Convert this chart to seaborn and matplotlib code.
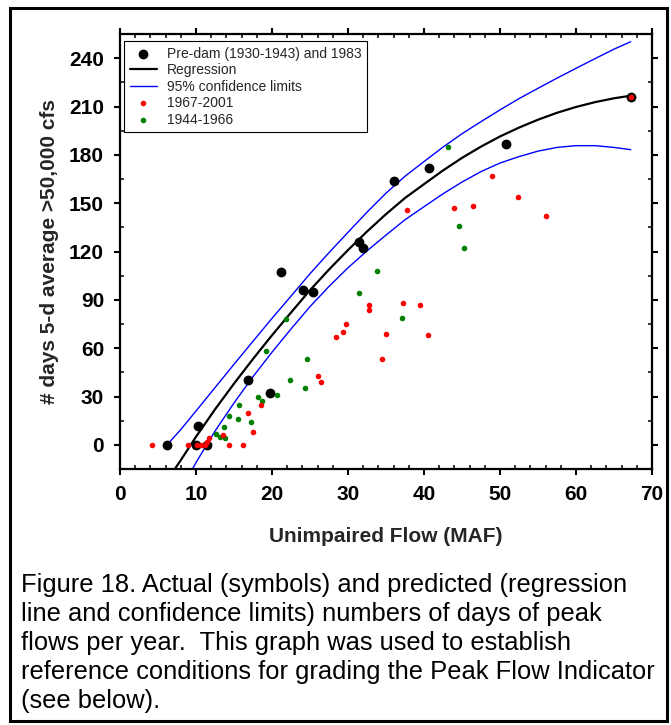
import matplotlib
matplotlib.use("Agg")
import matplotlib.pyplot as plt
import seaborn as sns
from matplotlib.ticker import MultipleLocator
from matplotlib.patches import Rectangle

# ---------------- data ----------------
predam_flow = [6.2, 10.0, 10.3, 11.5, 16.8, 19.8, 21.2, 24.1, 25.4, 31.4, 32.0, 36.1, 40.7, 50.8, 67.2]
predam_days = [0, 0, 12, 0, 40, 32, 107, 96, 95, 126, 122, 164, 172, 187, 216]

late_flow = [4.2, 8.9, 10.1, 10.7, 11.2, 11.5, 11.7, 13.6, 14.3, 16.2, 16.8, 17.5, 18.5,
             26.0, 26.4, 28.4, 29.4, 29.8, 32.7, 32.8, 34.5, 35.0, 37.3, 37.7, 39.5, 40.5,
             44.0, 46.4, 48.9, 52.4, 56.0, 67.2]
late_days = [0, 0, 0, 0, 0, 2, 4, 6, 0, 0, 20, 8, 25,
             43, 39, 67, 70, 75, 87, 84, 53, 69, 88, 146, 87, 68,
             147, 148, 167, 154, 142, 216]

early_flow = [12.6, 13.1, 13.7, 13.8, 14.4, 15.5, 15.7, 17.2, 18.2, 18.7, 19.2, 20.7,
              21.9, 22.4, 24.3, 24.6, 31.5, 33.8, 37.1, 43.1, 44.6, 45.3]
early_days = [7, 5, 11, 4, 18, 16, 25, 14, 30, 27, 58, 31,
              78, 40, 35, 53, 94, 108, 79, 185, 136, 122]

fit_flow = [6.2, 8, 10, 12.5, 15, 17.5, 20, 22.5, 25, 27.5, 30, 32.5, 35, 37.5, 40,
            42.5, 45, 47.5, 50, 52.5, 55, 57.5, 60, 62.5, 65, 67.2]
fit_days = [-22.1, -9.5, 5.0, 22.0, 38.0, 53.3, 68.0, 82.1, 96.0, 108.8, 120.9, 132.4,
            143.2, 153.2, 161.8, 170.3, 178.1, 185.1, 191.4, 196.9, 201.8, 206.1,
            209.7, 212.7, 215.1, 216.7]
upper_days = [0.0, 9.5, 21.0, 35.5, 50.0, 64.3, 78.5, 92.3, 106.2, 119.3, 131.9, 144.4,
              156.2, 166.7, 175.8, 184.8, 193.1, 200.6, 207.9, 214.9, 221.3, 227.6,
              233.7, 239.7, 245.6, 250.2]
lower_days = [-44.1, -28.5, -11.0, 8.5, 26.0, 42.3, 57.5, 71.9, 85.8, 98.3, 109.9, 120.4,
              130.2, 139.7, 147.8, 155.8, 163.1, 169.6, 174.9, 178.9, 182.3, 184.6,
              185.7, 185.7, 184.6, 183.2]

x_ticks = [0, 10, 20, 30, 40, 50, 60, 70]
y_ticks = [0, 30, 60, 90, 120, 150, 180, 210, 240]

caption_lines = [
    "Figure 18. Actual (symbols) and predicted (regression",
    "line and confidence limits) numbers of days of peak",
    "flows per year.  This graph was used to establish",
    "reference conditions for grading the Peak Flow Indicator",
    "(see below).",
]

# ---------------- figure ----------------
sns.set_style("ticks")
plt.rcParams['font.family'] = ['Liberation Sans', 'DejaVu Sans']

W, H = 671, 725
fig = plt.figure(figsize=(W / 100, H / 100), dpi=100)
ax_l, ax_r, ax_t, ax_b = 120, 652, 34, 469
ax = fig.add_axes([ax_l / W, 1 - ax_b / H, (ax_r - ax_l) / W, (ax_b - ax_t) / H])

sns.lineplot(x=fit_flow, y=fit_days, color='black', lw=1.6, ax=ax,
             label='Regression', sort=False, zorder=2)
sns.lineplot(x=fit_flow, y=upper_days, color='#0000ff', lw=1.0, ax=ax,
             label='95% confidence limits', sort=False, zorder=2)
sns.lineplot(x=fit_flow, y=lower_days, color='#0000ff', lw=1.0, ax=ax,
             sort=False, zorder=2)

sns.scatterplot(x=predam_flow, y=predam_days, color='black', s=50, linewidth=0,
                ax=ax, label='Pre-dam (1930-1943) and 1983', zorder=3)
sns.scatterplot(x=early_flow, y=early_days, color='#008000', s=16, linewidth=0,
                ax=ax, label='1944-1966', zorder=4)
sns.scatterplot(x=late_flow, y=late_days, color='#ff0000', s=16, linewidth=0,
                ax=ax, label='1967-2001', zorder=5)

ax.set_xlim(0, 70)
ax.set_ylim(-15, 255)
ax.set_xticks(x_ticks)
ax.set_yticks(y_ticks)
ax.xaxis.set_minor_locator(MultipleLocator(2))
ax.yaxis.set_minor_locator(MultipleLocator(15))

for s in ax.spines.values():
    s.set_visible(True)
    s.set_linewidth(1.6)
    s.set_color('black')

ax.tick_params(which='major', direction='out', length=4.5, width=1.5, top=True,
               right=True, labelsize=15, pad=7, colors='black')
ax.tick_params(which='minor', direction='in', length=3, width=1.1, top=True,
               right=True, colors='black')
for lbl in ax.get_xticklabels() + ax.get_yticklabels():
    lbl.set_fontweight('bold')

ax.set_xlabel('Unimpaired Flow (MAF)', fontsize=15, fontweight='bold')
ax.set_ylabel('# days 5-d average >50,000 cfs', fontsize=15, fontweight='bold')
ax.xaxis.label.set_va('center')
ax.yaxis.label.set_va('center')
ax.xaxis.set_label_coords(0.5, (ax_b - 537) / (ax_b - ax_t))
ax.yaxis.set_label_coords((50 - ax_l) / (ax_r - ax_l), 0.5)

handles, labels = ax.get_legend_handles_labels()
hmap = dict(zip(labels, handles))
order = ['Pre-dam (1930-1943) and 1983', 'Regression', '95% confidence limits',
         '1967-2001', '1944-1966']
leg = ax.legend([hmap[k] for k in order], order, loc='upper left',
                bbox_to_anchor=((124 - ax_l) / (ax_r - ax_l), (ax_b - 41) / (ax_b - ax_t)),
                borderaxespad=0, fontsize=10, frameon=True, fancybox=False,
                framealpha=1, edgecolor='black', handlelength=2.0,
                handletextpad=0.7, borderpad=0.4, labelspacing=0.18)
leg.get_frame().set_linewidth(0.8)

# outer figure frame
fig.patches.append(Rectangle((10 / W, 1 - 721 / H), (667 - 10) / W, (721 - 8) / H,
                             transform=fig.transFigure, fill=False, lw=2.2,
                             edgecolor='black'))

# caption
for i, line in enumerate(caption_lines):
    fig.text(21 / W, 1 - (592 + 29 * i) / H, line, fontsize=18.4, ha='left',
             va='baseline', color='black')

fig.savefig('out.png', dpi=100)
